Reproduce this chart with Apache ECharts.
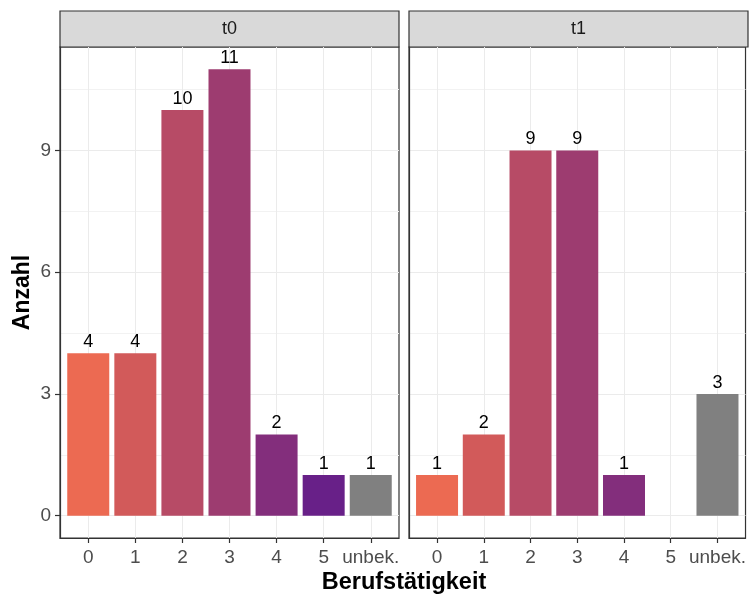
<!DOCTYPE html>
<html>
<head>
<meta charset="utf-8">
<script src="https://cdn.jsdelivr.net/npm/echarts@6/dist/echarts.min.js"></script>
<style>
html,body{margin:0;padding:0;background:#fff;}
#chart{width:749px;height:597px;}
</style>
</head>
<body>
<div id="chart"></div>
<script>
// Data
const categories = ['0', '1', '2', '3', '4', '5', 'unbek.'];
const panels = ['t0', 't1'];
const valuesT0 = [4, 4, 10, 11, 2, 1, 1];
const valuesT1 = [1, 2, 9, 9, 1, null, 3];
const yTicks = [0, 3, 6, 9];
const yMinorTicks = [1.5, 4.5, 7.5, 10.5];
const barColors = ['#EC6A52', '#D25A5A', '#B74B66', '#9D3C70', '#832E7C', '#682088', '#808080'];

const FONT = 'Liberation Sans, Arial, sans-serif';
const chart = echarts.init(document.getElementById('chart'));

const gridLeft = [60, 409];
const gridTop = 47, gridW = 339, gridH = 491;
const xIdx = categories.map((c, i) => i);

const grids = [], xAxes = [], yAxes = [], series = [];
[valuesT0, valuesT1].forEach((vals, p) => {
  grids.push({left: gridLeft[p], top: gridTop, width: gridW, height: gridH,
    show: true, borderColor: '#333333', borderWidth: 1.2, backgroundColor: 'transparent', containLabel: false});
  xAxes.push({type: 'value', gridIndex: p, min: -0.6, max: 6.6, position: 'bottom',
    axisLine: {show: true, onZero: false, lineStyle: {color: '#333333', width: 1.2}},
    axisTick: {show: true, customValues: xIdx, length: 5, lineStyle: {color: '#333333', width: 1.2}},
    axisLabel: {show: true, customValues: xIdx, margin: 10, color: '#4D4D4D', fontSize: 19, fontFamily: FONT,
      formatter: v => categories[Math.round(v)]},
    splitLine: {show: true, lineStyle: {color: '#EBEBEB', width: 1}}
  });
  yAxes.push({type: 'value', gridIndex: p, min: -0.55, max: 11.55, position: 'left',
    axisLine: {show: true, onZero: false, lineStyle: {color: '#333333', width: 1.2}},
    axisTick: {show: p === 0, customValues: yTicks, length: 5, lineStyle: {color: '#333333', width: 1.2}},
    axisLabel: {show: p === 0, customValues: yTicks, margin: 9, color: '#4D4D4D', fontSize: 19, fontFamily: FONT},
    splitLine: {show: true, lineStyle: {color: '#EBEBEB', width: 1}},
    name: p === 0 ? 'Anzahl' : '', nameLocation: 'middle', nameRotate: 90, nameGap: 26,
    nameTextStyle: {color: '#000', fontSize: 23, fontWeight: 'bold', fontFamily: FONT}
  });
  // minor y grid
  yAxes.push({type: 'value', gridIndex: p, min: -0.55, max: 11.55, position: 'right',
    axisLine: {show: false, onZero: false},
    axisTick: {show: false, customValues: yMinorTicks},
    axisLabel: {show: false, customValues: yMinorTicks},
    splitLine: {show: true, lineStyle: {color: '#F2F2F2', width: 1}}
  });
  series.push({
    type: 'bar', xAxisIndex: p, yAxisIndex: p * 2,
    barWidth: 42,
    data: vals.map((v, i) => v == null ? [i, '-'] : {value: [i, v], itemStyle: {color: barColors[i]}}),
    label: {show: true, position: 'top', distance: 2, color: '#000', fontSize: 18, fontFamily: FONT,
      formatter: d => d.value[1]},
    silent: true, animation: false
  });
});

const graphics = [];
panels.forEach((name, p) => {
  graphics.push({type: 'rect', shape: {x: gridLeft[p], y: 11, width: gridW, height: 36},
    style: {fill: '#D9D9D9', stroke: '#333333', lineWidth: 1.2}});
  graphics.push({type: 'text', x: gridLeft[p] + gridW / 2, y: 29,
    style: {text: name, fill: '#1A1A1A', font: '18px ' + FONT, textAlign: 'center', textVerticalAlign: 'middle'}});
});
graphics.push({type: 'text', x: 404, y: 583,
  style: {text: 'Berufstätigkeit', fill: '#000', font: 'bold 23.5px ' + FONT, textAlign: 'center', textVerticalAlign: 'middle'}});

chart.setOption({
  animation: false,
  grid: grids, xAxis: xAxes, yAxis: yAxes, series: series, graphic: graphics
});
</script>
</body>
</html>
